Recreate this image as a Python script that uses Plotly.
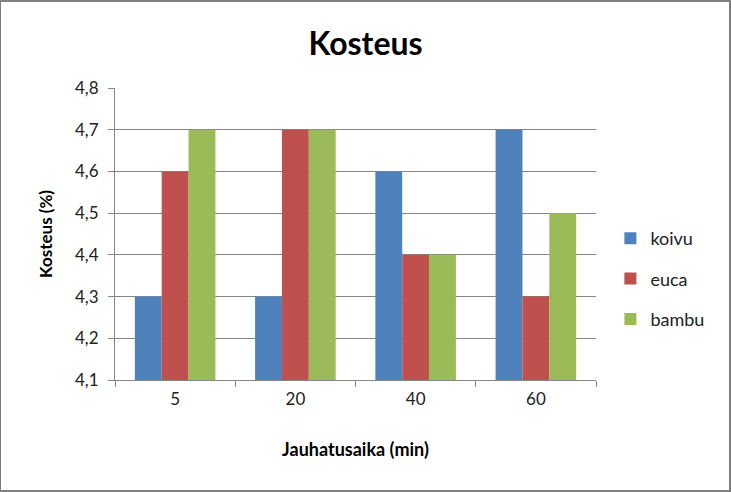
import plotly.graph_objects as go

# data
times = ["5", "20", "40", "60"]
koivu = [4.3, 4.3, 4.6, 4.7]
euca = [4.6, 4.7, 4.4, 4.3]
bambu = [4.7, 4.7, 4.4, 4.5]

series = [
    ("koivu", koivu, "#4F81BD"),
    ("euca", euca, "#C0504D"),
    ("bambu", bambu, "#9BBB59"),
]

font = "Lato, 'Open Sans', sans-serif"

fig = go.Figure()
for name, vals, col in series:
    fig.add_trace(go.Bar(
        x=times, y=vals, name=name, legendgroup=name,
        marker=dict(color=col, line=dict(width=0)),
    ))

fig.update_layout(
    width=731, height=492,
    paper_bgcolor="white", plot_bgcolor="white",
    font=dict(family=font, size=17, color="#222"),
    separators=", ",
    title=dict(text="<b>Kosteus</b>", x=0.5, xanchor="center",
               y=0.911, yanchor="middle", font=dict(size=32, color="black")),
    margin=dict(l=115, r=135, t=88, b=112),
    barmode="group", bargap=0.33, bargroupgap=0,
    legend=dict(xref="container", yref="container", x=0.835, y=0.433,
                xanchor="left", yanchor="middle", tracegroupgap=14,
                font=dict(size=18, color="#222")),
    showlegend=True,
)

fig.update_xaxes(
    type="category", showline=True, linecolor="#868686", linewidth=1,
    ticks="outside", tickson="boundaries", ticklen=6, tickcolor="#868686",
    showgrid=False, ticklabelstandoff=4,
    title=dict(text="<b>Jauhatusaika (min)</b>", font=dict(size=18, color="black"),
               standoff=34),
)
fig.update_yaxes(
    range=[4.1, 4.8], dtick=0.1, tickformat=".1f",
    showline=True, linecolor="#868686", linewidth=1,
    ticks="outside", ticklen=6, tickcolor="#868686", ticklabelstandoff=6,
    showgrid=True, gridcolor="#868686", gridwidth=1, zeroline=False,
    title=dict(text="<b>Kosteus (%)</b>", font=dict(size=17, color="black"),
               standoff=18),
)

fig.add_shape(type="rect", xref="paper", yref="paper",
              x0=-115 / 481, x1=1 + 134 / 481, y0=-111 / 292, y1=1 + 87 / 292,
              line=dict(color="#7f7f7f", width=2), fillcolor="rgba(0,0,0,0)")

fig.write_html("out.html", config={"displayModeBar": False},
               post_script="document.body.style.margin='0';")
